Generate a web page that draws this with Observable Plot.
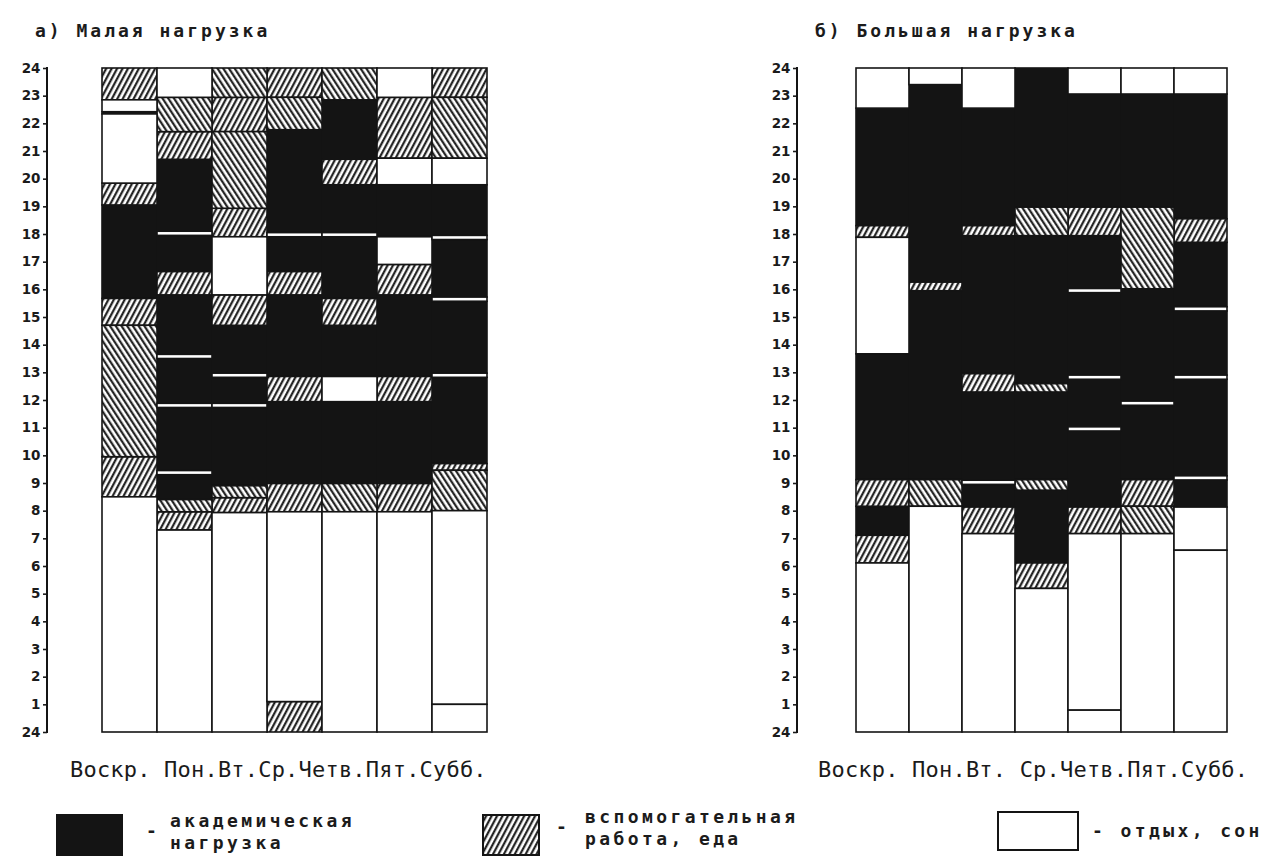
<!DOCTYPE html>
<html><head><meta charset="utf-8">
<script src="https://cdn.jsdelivr.net/npm/d3@7"></script>
<script src="https://cdn.jsdelivr.net/npm/@observablehq/plot@0.6"></script>
<style>
body{margin:0;background:#fff;}
#wrap{position:relative;width:1276px;height:858px;overflow:hidden;background:#fff;}
.abs{position:absolute;white-space:nowrap;color:#1b1b1b;font-family:"DejaVu Sans Mono","Liberation Mono",monospace;}
.title{font-size:18px;letter-spacing:3px;font-weight:bold;}
.days{font-size:22px;letter-spacing:0.2px;}
.leg{font-size:18px;letter-spacing:3.4px;font-weight:bold;line-height:22px;}
</style></head>
<body>
<svg width="0" height="0" style="position:absolute">
<defs>
<pattern id="hatchF" patternUnits="userSpaceOnUse" width="4.8" height="4.8" patternTransform="rotate(28)">
<rect width="4.8" height="4.8" fill="#fff"/>
<line x1="1.2" y1="0" x2="1.2" y2="4.8" stroke="#151515" stroke-width="2.1"/>
</pattern>
<pattern id="hatchB" patternUnits="userSpaceOnUse" width="4.8" height="4.8" patternTransform="rotate(-33)">
<rect width="4.8" height="4.8" fill="#fff"/>
<line x1="1.2" y1="0" x2="1.2" y2="4.8" stroke="#151515" stroke-width="2.1"/>
</pattern>
</defs>
</svg>
<div id="wrap"></div>
<div id="probe" style="position:absolute;left:0;top:0;width:0;height:0;overflow:hidden;font-size:1px;color:#fff"></div>
<script>
// ---- data ----
const days = ["Воскр.", "Пон.", "Вт.", "Ср.", "Четв.", "Пят.", "Субб."];
const hourTicks = d3.range(0, 25);
const titles = ["а) Малая нагрузка", "б) Большая нагрузка"];
const dayLabelLeft = "Воскр. Пон.Вт.Ср.Четв.Пят.Субб.";
const dayLabelRight = "Воскр. Пон.Вт. Ср.Четв.Пят.Субб.";
const legendLabels = ["академическая\nнагрузка", "вспомогательная\nработа, еда", "отдых, сон"];
// kinds: A = академическая нагрузка, H = вспомогательная (штриховка /), B = вспомогательная (штриховка \), R = отдых, сон
// segments: [from hour (top), to hour (bottom), kind]
const smallSun = [[24,22.85,"H"],[22.85,22.42,"R"],[22.42,22.34,"A"],[22.34,19.84,"R"],[19.84,19.05,"H"],[19.05,15.67,"A"],[15.67,14.7,"H"],[14.7,9.95,"B"],[9.95,8.5,"H"],[8.5,0,"R"]];
const smallMon = [[24,22.94,"R"],[22.94,21.7,"B"],[21.7,20.7,"H"],[20.7,18.1,"A"],[18.1,17.95,"R"],[17.95,16.64,"A"],[16.64,15.8,"H"],[15.8,13.65,"A"],[13.65,13.5,"R"],[13.5,11.88,"A"],[11.88,11.73,"R"],[11.73,9.45,"A"],[9.45,9.3,"R"],[9.3,8.4,"A"],[8.4,7.96,"B"],[7.96,7.3,"H"],[7.3,0,"R"]];
const smallTue = [[24,22.94,"B"],[22.94,21.7,"H"],[21.7,18.93,"B"],[18.93,17.9,"H"],[17.9,15.8,"R"],[15.8,14.7,"H"],[14.7,12.97,"A"],[12.97,12.82,"R"],[12.82,11.88,"A"],[11.88,11.73,"R"],[11.73,8.9,"A"],[8.9,8.47,"B"],[8.47,7.93,"H"],[7.93,0,"R"]];
const smallWed = [[24,22.94,"H"],[22.94,21.77,"B"],[21.77,18.05,"A"],[18.05,17.9,"R"],[17.9,16.64,"A"],[16.64,15.8,"H"],[15.8,12.85,"A"],[12.85,11.94,"H"],[11.94,8.98,"A"],[8.98,7.96,"H"],[7.96,1.1,"R"],[1.1,0,"H"]];
const smallThu = [[24,22.85,"B"],[22.85,20.7,"A"],[20.7,19.78,"H"],[19.78,18.05,"A"],[18.05,17.9,"R"],[17.9,15.67,"A"],[15.67,14.7,"H"],[14.7,12.85,"A"],[12.85,11.94,"R"],[11.94,8.98,"A"],[8.98,7.96,"B"],[7.96,0,"R"]];
const smallFri = [[24,22.94,"R"],[22.94,20.74,"H"],[20.74,19.78,"R"],[19.78,17.9,"A"],[17.9,16.9,"R"],[16.9,15.8,"H"],[15.8,12.85,"A"],[12.85,11.94,"H"],[11.94,8.98,"A"],[8.98,7.96,"H"],[7.96,0,"R"]];
const smallSat = [[24,22.94,"H"],[22.94,20.74,"B"],[20.74,19.78,"R"],[19.78,17.95,"A"],[17.95,17.8,"R"],[17.8,15.72,"A"],[15.72,15.57,"R"],[15.57,12.97,"A"],[12.97,12.82,"R"],[12.82,9.7,"A"],[9.7,9.46,"H"],[9.46,8.0,"B"],[8.0,1.0,"R"],[1.0,0,"R"]];

const bigSun = [[24,22.55,"R"],[22.55,18.3,"A"],[18.3,17.88,"H"],[17.88,13.67,"R"],[13.67,9.12,"A"],[9.12,8.16,"H"],[8.16,7.11,"A"],[7.11,6.11,"H"],[6.11,0,"R"]];
const bigMon = [[24,23.4,"R"],[23.4,16.26,"A"],[16.26,15.95,"H"],[15.95,9.12,"A"],[9.12,8.16,"B"],[8.16,0,"R"]];
const bigTue = [[24,22.55,"R"],[22.55,18.3,"A"],[18.3,17.94,"H"],[17.94,12.95,"A"],[12.95,12.29,"H"],[12.29,9.1,"A"],[9.1,8.95,"R"],[8.95,8.13,"A"],[8.13,7.17,"H"],[7.17,0,"R"]];
const bigWed = [[24,18.97,"A"],[18.97,17.94,"B"],[17.94,12.59,"A"],[12.59,12.29,"B"],[12.29,9.12,"A"],[9.12,8.74,"B"],[8.74,6.11,"A"],[6.11,5.19,"H"],[5.19,0,"R"]];
const bigThu = [[24,23.06,"R"],[23.06,18.97,"A"],[18.97,17.94,"H"],[17.94,16.03,"A"],[16.03,15.88,"R"],[15.88,12.9,"A"],[12.9,12.75,"R"],[12.75,11.03,"A"],[11.03,10.88,"R"],[10.88,8.13,"A"],[8.13,7.17,"H"],[7.17,0.79,"R"],[0.79,0,"R"]];
const bigFri = [[24,23.06,"R"],[23.06,18.97,"A"],[18.97,16.02,"B"],[16.02,11.96,"A"],[11.96,11.81,"R"],[11.81,9.12,"A"],[9.12,8.16,"H"],[8.16,7.17,"B"],[7.17,0,"R"]];
const bigSat = [[24,23.06,"R"],[23.06,18.55,"A"],[18.55,17.7,"H"],[17.7,15.37,"A"],[15.37,15.22,"R"],[15.22,12.9,"A"],[12.9,12.75,"R"],[12.75,9.26,"A"],[9.26,9.11,"R"],[9.11,8.13,"A"],[8.13,6.57,"R"],[6.57,0,"R"]];

const smallWeek = [smallSun, smallMon, smallTue, smallWed, smallThu, smallFri, smallSat];
const bigWeek = [bigSun, bigMon, bigTue, bigWed, bigThu, bigFri, bigSat];

// ---- build ----
const fills = {A: "#141414", H: "url(#hatchF)", B: "url(#hatchB)", R: "#ffffff"};
function rows(week) {
  const out = [];
  week.forEach((segs, i) => segs.forEach(([from, to, kind]) => out.push({day: days[i], from, to, kind})));
  return out;
}
const wrap = document.getElementById("wrap");
const charts = [];
function panel(week, left, axisX, x0, x1) {
  const data = rows(week);
  const chart = Plot.plot({
    width: 640, height: 750,
    marginLeft: axisX, marginRight: 10, marginTop: 68, marginBottom: 18,
    style: {fontFamily: "DejaVu Sans, sans-serif", fontSize: "13.5px", fontWeight: "bold", color: "#1b1b1b", background: "transparent"},
    x: {domain: days, range: [x0, x1], padding: 0, axis: null},
    y: {domain: [0, 24], axis: null},
    marks: [
      ...["A", "H", "B", "R"].map(k => Plot.barY(data.filter(d => d.kind === k), {
        x: "day", y1: "to", y2: "from", fill: fills[k], stroke: "#141414", strokeWidth: 1.6, inset: 0
      })),
      Plot.axisY({ticks: hourTicks, tickFormat: d => d === 0 ? "24" : String(d), tickSize: 4, tickPadding: 3, strokeWidth: 1.6, label: null})
    ]
  });
  // axis spine drawn from the library's own y scale
  const ys = chart.scale("y");
  const ln = document.createElementNS("http://www.w3.org/2000/svg", "line");
  ln.setAttribute("x1", axisX); ln.setAttribute("x2", axisX);
  ln.setAttribute("y1", ys.apply(24) - 1); ln.setAttribute("y2", ys.apply(0) + 1);
  ln.setAttribute("stroke", "#141414"); ln.setAttribute("stroke-width", 2);
  chart.appendChild(ln);
  chart.style.position = "absolute";
  chart.style.left = left + "px";
  chart.style.top = "0px";
  wrap.appendChild(chart);
  charts.push(chart);
}
panel(smallWeek, 0, 47, 100, 488);
panel(bigWeek, 640, 157, 213, 590);

function text(cls, str, x, y) {
  const d = document.createElement("div");
  d.className = "abs " + cls;
  d.style.left = x + "px"; d.style.top = y + "px";
  d.innerHTML = str.split("\n").join("<br>");
  wrap.appendChild(d);
  return d;
}
text("title", titles[0], 35, 20);
text("title", titles[1], 815, 20);
text("days", dayLabelLeft, 70, 757);
text("days", dayLabelRight, 818, 757);

function swatch(x, y, w, h, fill) {
  const s = document.createElementNS("http://www.w3.org/2000/svg", "svg");
  s.setAttribute("width", w + 4); s.setAttribute("height", h + 4);
  s.style.position = "absolute"; s.style.left = (x - 2) + "px"; s.style.top = (y - 2) + "px";
  s.innerHTML = `<rect x="2" y="2" width="${w}" height="${h}" fill="${fill}" stroke="#141414" stroke-width="2"/>`;
  wrap.appendChild(s);
}
swatch(57, 815, 65, 40, fills.A);
text("leg", "-", 146, 820);
text("leg", legendLabels[0], 170, 810);
swatch(483, 815, 56, 40, fills.H);
text("leg", "-", 556, 816);
text("leg", legendLabels[1], 585, 806);
swatch(998, 812, 80, 38, fills.R);
text("leg", "- " + legendLabels[2], 1092, 820);

// force layout / hit-testing pass (as in the render where the axis spine and ticks appeared)
const e1 = document.elementFromPoint(45, 400);
const e2 = document.elementFromPoint(47, 300);
const e3 = document.elementFromPoint(795, 400);
const probeLen = charts.map(c => c.outerHTML.length).join(",");
document.getElementById("probe").textContent = (e1 ? e1.tagName : "") + (e2 ? e2.tagName : "") + (e3 ? e3.tagName : "") + probeLen;
</script>
</body></html>
